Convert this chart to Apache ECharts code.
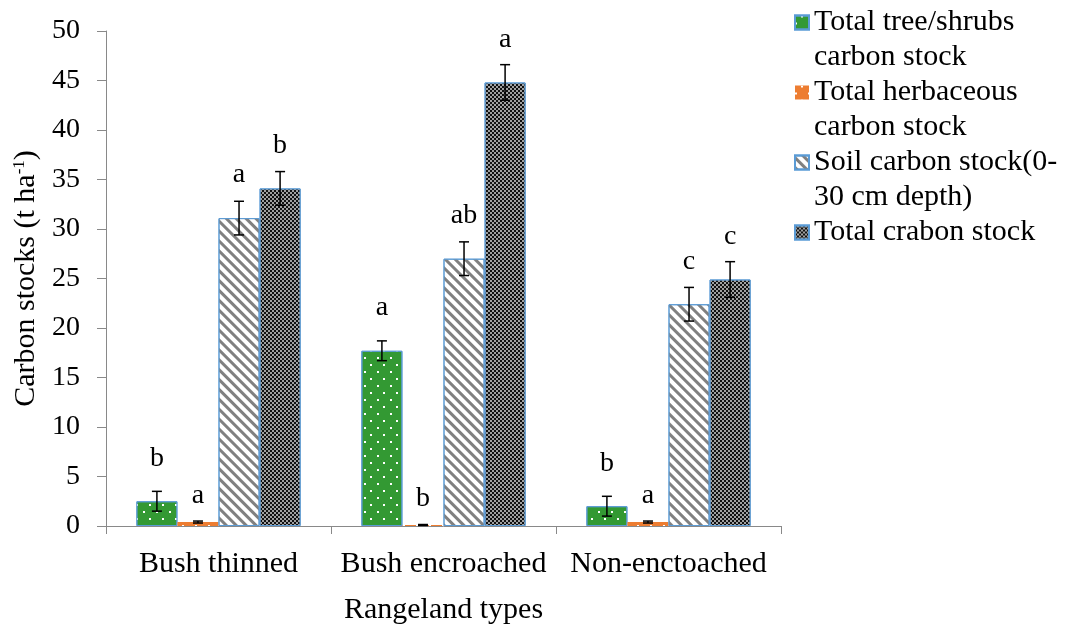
<!DOCTYPE html>
<html>
<head>
<meta charset="utf-8">
<script src="https://cdn.jsdelivr.net/npm/echarts@6/dist/echarts.min.js"></script>
<style>
html,body{margin:0;padding:0;background:#fff;}
#chart{width:1068px;height:626px;}
</style>
</head>
<body>
<div id="chart"></div>
<script>
// ---- data ----
var categories = ['Bush thinned', 'Bush encroached', 'Non-enctoached'];
var seriesNames = ['Total tree/shrubs\ncarbon stock', 'Total herbaceous\ncarbon stock', 'Soil carbon stock(0-\n30 cm depth)', 'Total crabon stock'];
var treeShrub = [2.5, 17.7, 2.0];
var herbaceous = [0.4, 0.1, 0.4];
var soil = [31.1, 27.0, 22.4];
var total = [34.1, 44.8, 24.9];
var treeShrubErr = [1.0, 1.0, 1.0];
var herbaceousErr = [0.1, 0.05, 0.1];
var soilErr = [1.7, 1.7, 1.7];
var totalErr = [1.7, 1.8, 1.8];
var treeShrubLetters = ['b', 'a', 'b'];
var herbaceousLetters = ['a', 'b', 'a'];
var soilLetters = ['a', 'ab', 'c'];
var totalLetters = ['b', 'a', 'c'];
var yTicks = [0, 5, 10, 15, 20, 25, 30, 35, 40, 45, 50];

// ---- chart ----
var FONT = '"Liberation Serif", "Times New Roman", serif';
var CAT_GAP = 0.27;
var chart = echarts.init(document.getElementById('chart'), null, {renderer: 'canvas'});

var borderBlue = '#5B9BD5';
var styles = [
  {color: '#339933', borderColor: borderBlue, borderWidth: 1,
   decal: {symbol: 'rect', symbolSize: 1, color: '#ffffff', dashArrayX: [[1.5, 10.5], [0, 6, 1.5, 4.5]], dashArrayY: [1.5, 5]}},
  {color: '#ED7D31', borderColor: borderBlue, borderWidth: 0,
   decal: {symbol: 'rect', symbolSize: 1, color: '#ffffff', dashArrayX: [[1.5, 10.5], [0, 6, 1.5, 4.5]], dashArrayY: [1.5, 5]}},
  {color: '#ffffff', borderColor: borderBlue, borderWidth: 1,
   decal: {symbol: 'rect', symbolSize: 1, color: '#808080', dashArrayX: [1, 0], dashArrayY: [3, 4], rotation: Math.PI / 4}},
  {color: '#111111', borderColor: borderBlue, borderWidth: 1,
   decal: {symbol: 'rect', symbolSize: 1, color: '#a0a0a0', dashArrayX: [[2, 2], [0, 2, 2, 0]], dashArrayY: [2, 0]}}
];

var values = [treeShrub, herbaceous, soil, total];
var errs = [treeShrubErr, herbaceousErr, soilErr, totalErr];
var letters = [treeShrubLetters, herbaceousLetters, soilLetters, totalLetters];
var labelGaps = [35, 18, 35, 35];

var series = [];
values.forEach(function (vals, s) {
  series.push({
    type: 'bar',
    name: seriesNames[s],
    data: vals,
    barGap: 0,
    barCategoryGap: (CAT_GAP * 100) + '%',
    itemStyle: styles[s],
    emphasis: {disabled: true}
  });
});
values.forEach(function (vals, s) {
  series.push({
    type: 'custom',
    name: 'err' + s,
    silent: true,
    z: 10,
    data: vals.map(function (v, i) { return [i, v, errs[s][i]]; }),
    renderItem: function (params, api) {
      var ci = api.value(0), v = api.value(1), e = api.value(2);
      var band = api.size([1, 0])[0];
      var bw = band * (1 - CAT_GAP) / 4;
      var off = (s - 1.5) * bw;
      var p = api.coord([ci, v]);
      var x = p[0] + off;
      var yTop = api.coord([ci, v + e])[1];
      var yBot = api.coord([ci, v - e])[1];
      var cap = 5;
      var ls = {stroke: '#000', lineWidth: 1.5};
      return {
        type: 'group',
        children: [
          {type: 'line', shape: {x1: x, y1: yTop, x2: x, y2: yBot}, style: ls},
          {type: 'line', shape: {x1: x - cap, y1: yTop, x2: x + cap, y2: yTop}, style: ls},
          {type: 'line', shape: {x1: x - cap, y1: yBot, x2: x + cap, y2: yBot}, style: ls},
          {type: 'text', x: x, y: p[1] - labelGaps[s] + 6,
           style: {text: letters[s][params.dataIndex], fill: '#000', font: '28px ' + FONT, align: 'center', verticalAlign: 'bottom'}}
        ]
      };
    }
  });
});

var option = {
  animation: false,
  backgroundColor: '#ffffff',
  grid: {left: 106, right: 287, top: 31, bottom: 100, containLabel: false, outerBoundsMode: 'none'},
  legend: {
    data: seriesNames,
    orient: 'vertical',
    left: 789,
    top: -35,
    itemWidth: 14,
    itemHeight: 14,
    itemGap: -35,
    icon: 'rect',
    selectedMode: false,
    formatter: function (name) { return ' \n' + (name.indexOf('\n') < 0 ? name + '\n ' : name); },
    textStyle: {fontFamily: FONT, fontSize: 30, color: '#000', lineHeight: 35}
  },
  xAxis: {
    type: 'category',
    data: categories,
    name: 'Rangeland types',
    nameLocation: 'middle',
    nameGap: 69,
    nameTextStyle: {fontFamily: FONT, fontSize: 30, color: '#000'},
    axisLine: {lineStyle: {color: '#898989', width: 1}},
    axisTick: {show: true, length: 8, lineStyle: {color: '#898989'}},
    axisLabel: {fontFamily: FONT, fontSize: 30, color: '#000', margin: 23, interval: 0, hideOverlap: false}
  },
  yAxis: {
    type: 'value',
    min: yTicks[0],
    max: yTicks[yTicks.length - 1],
    interval: yTicks[1] - yTicks[0],
    name: 'Carbon stocks (t ha{sup|-1})',
    nameLocation: 'middle',
    nameGap: 63,
    nameTextStyle: {fontFamily: FONT, fontSize: 30, color: '#000',
      rich: {sup: {fontFamily: FONT, fontSize: 17, color: '#000', verticalAlign: 'top', padding: [0, 0, 12, 0]}}},
    splitLine: {show: false},
    axisLine: {show: true, lineStyle: {color: '#898989', width: 1}},
    axisTick: {show: true, length: 9, lineStyle: {color: '#898989'}},
    axisLabel: {fontFamily: FONT, fontSize: 28, color: '#000', margin: 26}
  },
  series: series
};
chart.setOption(option);
</script>
</body>
</html>
